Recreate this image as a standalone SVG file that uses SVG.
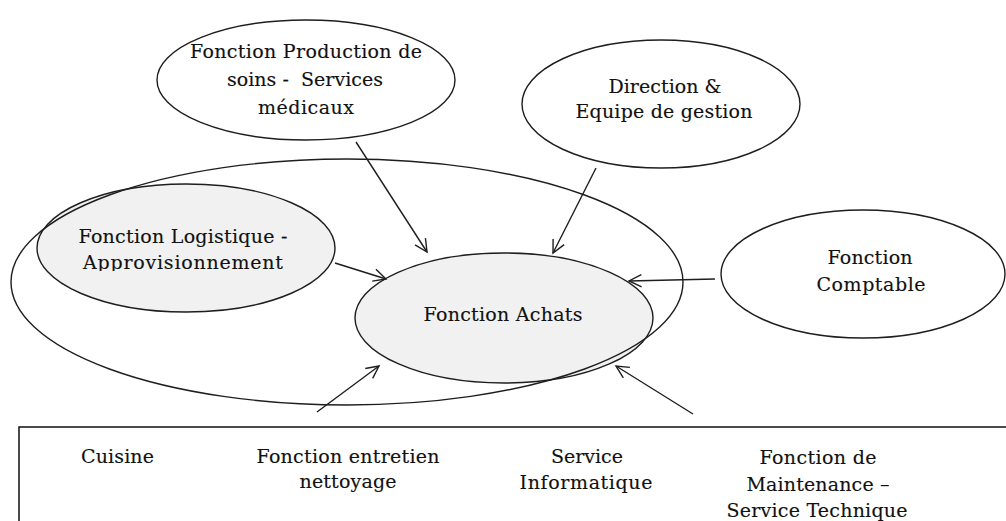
<svg xmlns="http://www.w3.org/2000/svg" width="1006" height="521" viewBox="0 0 1006 521">
  <style>
    .node { stroke: #1e1e1e; stroke-width: 1.4; }
    .plain { fill: #ffffff; }
    .shaded { fill: #f1f1f1; }
    .ring { fill: none; stroke: #1e1e1e; stroke-width: 1.4; }
    .lbl { font-family: "DejaVu Serif", "Liberation Serif", serif; font-size: 19px; fill: #111111; stroke: #111111; stroke-width: 0.15; text-anchor: middle; white-space: pre; }
    .link { fill: none; stroke: #1e1e1e; stroke-width: 1.4; marker-end: url(#arrow); }
    .frame { fill: #ffffff; stroke: #1e1e1e; stroke-width: 1.6; }
  </style>
  <defs>
    <marker id="arrow" viewBox="0 0 16 16" markerWidth="16" markerHeight="16" refX="14" refY="8" orient="auto" markerUnits="userSpaceOnUse">
      <path d="M1.5,1.8 L14,8 L1.5,14.2" fill="none" stroke="#1e1e1e" stroke-width="1.4" stroke-linejoin="miter"/>
    </marker>
    <clipPath id="logClip">
      <rect x="30" y="180" width="310" height="91"/>
    </clipPath>
  </defs>

  <rect width="1006" height="521" fill="#ffffff"/>

  <!-- services box at the bottom -->
  <g id="services">
    <rect class="frame" x="19" y="427" width="1000" height="200"/>
    <text class="lbl" x="117.5" y="463" textLength="73">Cuisine</text>
    <text class="lbl" x="348" y="463" textLength="183">Fonction entretien</text>
    <text class="lbl" x="348" y="488" textLength="97">nettoyage</text>
    <text class="lbl" x="587" y="463" textLength="72">Service</text>
    <text class="lbl" x="586" y="489" textLength="133">Informatique</text>
    <text class="lbl" x="818" y="464" textLength="117">Fonction de</text>
    <text class="lbl" x="818" y="491" textLength="143">Maintenance –</text>
    <text class="lbl" x="817" y="517" textLength="181">Service Technique</text>
  </g>

  <!-- upper nodes -->
  <g id="production">
    <ellipse class="node plain" cx="306" cy="80" rx="149" ry="60"/>
    <text class="lbl" x="306" y="58" textLength="232">Fonction Production de</text>
    <text class="lbl" x="305" y="86" textLength="156">soins -  Services</text>
    <text class="lbl" x="306" y="114" textLength="96">médicaux</text>
  </g>

  <g id="direction">
    <ellipse class="node plain" cx="661" cy="104" rx="139" ry="64"/>
    <text class="lbl" x="665" y="93" textLength="113">Direction &amp;</text>
    <text class="lbl" x="664" y="118" textLength="177">Equipe de gestion</text>
  </g>

  <g id="comptable">
    <ellipse class="node plain" cx="863" cy="274" rx="142" ry="64"/>
    <text class="lbl" x="870" y="264" textLength="85">Fonction</text>
    <text class="lbl" x="871" y="291" textLength="109">Comptable</text>
  </g>

  <g id="logistique">
    <ellipse class="node shaded" cx="186" cy="248" rx="149" ry="64"/>
    <g clip-path="url(#logClip)">
      <text class="lbl" x="183" y="243" textLength="209">Fonction Logistique -</text>
      <text class="lbl" x="183" y="269" textLength="200">Approvisionnement</text>
    </g>
  </g>

  <g id="achats">
    <ellipse class="node shaded" cx="504" cy="318" rx="149" ry="65"/>
    <text class="lbl" x="503" y="321" textLength="159">Fonction Achats</text>
  </g>

  <!-- perimeter enclosing the purchasing area -->
  <g id="perimetre">
    <ellipse class="ring" cx="347" cy="282" rx="336" ry="123"/>
  </g>

  <!-- connectors -->
  <g id="connectors">
    <line class="link" x1="356" y1="142" x2="427" y2="252"/>
    <line class="link" x1="596" y1="168" x2="553" y2="253"/>
    <line class="link" x1="335" y1="263" x2="386" y2="279"/>
    <line class="link" x1="715" y1="279" x2="629" y2="281"/>
    <line class="link" x1="317" y1="412" x2="379" y2="366"/>
    <line class="link" x1="693" y1="414" x2="616" y2="366"/>
  </g>
</svg>
